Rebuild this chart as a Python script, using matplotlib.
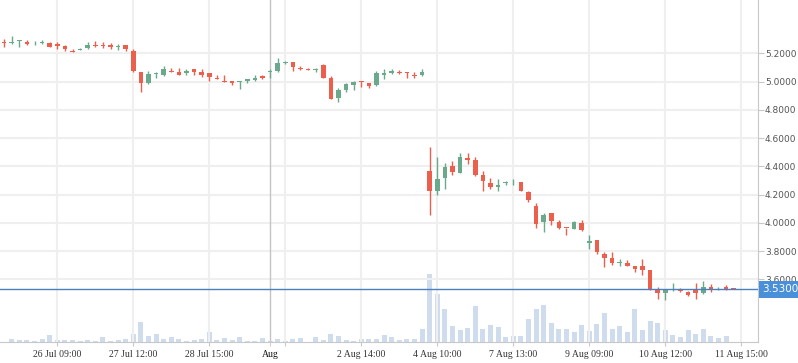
import matplotlib
matplotlib.use("Agg")
import matplotlib.pyplot as plt
import matplotlib.transforms as mtransforms

# OHLC per candle (one candle per index position)
opens = [5.279, 5.274, 5.285, 5.280, 5.270, 5.276, 5.273, 5.266, 5.252, 5.218,
         5.226, 5.240, 5.261, 5.259, 5.259, 5.245, 5.259, 5.216, 5.070, 4.988,
         5.052, 5.047, 5.075, 5.068, 5.063, 5.087, 5.070, 5.061, 5.026, 5.004,
         5.004, 4.997, 5.004, 5.011, 5.042, 5.070, 5.075, 5.130, 5.141, 5.098,
         5.089, 5.084, 5.117, 5.023, 4.882, 4.941, 4.978, 5.004, 4.990, 4.976,
         5.047, 5.063, 5.068, 5.063, 5.049, 5.047, 4.368, 4.222, 4.321, 4.404,
         4.356, 4.460, 4.446, 4.340, 4.283, 4.257, 4.281, 4.286, 4.290, 4.220,
         4.121, 4.004, 4.071, 4.009, 3.967, 3.955, 4.000, 3.856, 3.882, 3.783,
         3.748, 3.719, 3.719, 3.698, 3.698, 3.670, 3.531, 3.502, 3.524, 3.534,
         3.508, 3.531, 3.502, 3.548, 3.524, 3.543, 3.535]
closes = [5.276, 5.277, 5.288, 5.266, 5.272, 5.279, 5.247, 5.252, 5.233, 5.212,
          5.230, 5.259, 5.252, 5.254, 5.245, 5.249, 5.233, 5.075, 4.992, 5.054,
          5.063, 5.087, 5.070, 5.049, 5.075, 5.068, 5.049, 5.030, 5.021, 5.000,
          4.988, 5.004, 5.016, 5.025, 5.028, 5.073, 5.129, 5.133, 5.101, 5.091,
          5.084, 5.087, 5.028, 4.879, 4.941, 4.983, 4.999, 4.999, 4.969, 5.059,
          5.059, 5.077, 5.063, 5.059, 5.042, 5.066, 4.222, 4.312, 4.397, 4.361,
          4.467, 4.446, 4.340, 4.293, 4.257, 4.269, 4.285, 4.290, 4.229, 4.159,
          3.990, 4.056, 4.010, 3.967, 3.962, 4.004, 3.953, 3.875, 3.792, 3.750,
          3.715, 3.724, 3.693, 3.672, 3.665, 3.534, 3.502, 3.522, 3.534, 3.517,
          3.493, 3.502, 3.548, 3.524, 3.531, 3.534, 3.530]
highs = [5.299, 5.322, 5.292, 5.292, 5.285, 5.292, 5.278, 5.278, 5.257, 5.228,
         5.235, 5.280, 5.287, 5.278, 5.275, 5.266, 5.259, 5.230, 5.070, 5.075,
         5.070, 5.110, 5.094, 5.096, 5.089, 5.087, 5.089, 5.061, 5.049, 5.049,
         5.004, 5.004, 5.016, 5.047, 5.049, 5.087, 5.165, 5.146, 5.141, 5.110,
         5.094, 5.098, 5.126, 5.037, 4.957, 4.988, 5.006, 5.004, 4.990, 5.077,
         5.089, 5.087, 5.080, 5.070, 5.066, 5.087, 4.540, 4.469, 4.425, 4.439,
         4.495, 4.495, 4.467, 4.368, 4.319, 4.312, 4.293, 4.312, 4.290, 4.227,
         4.142, 4.071, 4.071, 4.023, 3.967, 4.011, 4.023, 3.917, 3.882, 3.792,
         3.792, 3.741, 3.734, 3.698, 3.741, 3.670, 3.543, 3.522, 3.578, 3.541,
         3.520, 3.578, 3.592, 3.564, 3.548, 3.562, 3.535]
lows = [5.247, 5.266, 5.247, 5.259, 5.259, 5.266, 5.242, 5.228, 5.218, 5.211,
        5.221, 5.233, 5.247, 5.235, 5.233, 5.221, 5.218, 5.068, 4.928, 4.985,
        5.023, 5.040, 5.070, 5.049, 5.049, 5.049, 5.030, 5.002, 5.021, 5.000,
        4.978, 4.950, 4.992, 5.007, 5.021, 5.028, 5.068, 5.124, 5.077, 5.080,
        5.082, 5.070, 5.028, 4.879, 4.858, 4.929, 4.943, 4.964, 4.957, 4.971,
        5.018, 5.054, 5.052, 5.028, 5.028, 5.042, 4.053, 4.199, 4.243, 4.342,
        4.356, 4.420, 4.333, 4.229, 4.243, 4.229, 4.271, 4.271, 4.222, 4.151,
        3.961, 3.932, 3.985, 3.958, 3.917, 3.955, 3.941, 3.818, 3.783, 3.686,
        3.700, 3.693, 3.693, 3.649, 3.630, 3.524, 3.458, 3.453, 3.518, 3.510,
        3.481, 3.458, 3.495, 3.510, 3.524, 3.524, 3.530]
volumes = [0, 3, 2, 2, 1.3, 3, 7, 2, 2, 2,
           1.3, 2, 1.3, 5, 0.7, 2, 3, 8, 20, 6,
           8, 3, 5, 3, 1.3, 2, 3, 10, 2, 4,
           2, 5, 1.3, 1.3, 4, 1, 3, 1.3, 3, 4,
           0.3, 5, 2, 8, 6, 2, 1.3, 3, 3, 3,
           7, 5, 2, 3, 3, 13, 68, 48, 33, 16,
           12, 14, 36, 13, 17, 15, 5, 6, 6, 23,
           33, 37, 19, 13, 13, 10, 17, 11, 18, 29,
           13, 16, 10, 33, 12, 21, 19, 12, 7, 5,
           12, 8, 13, 6, 4, 6, 0]

tick_pos = [7, 17, 27, 37, 47, 57, 67, 77, 87, 97]
tick_labels = ["26 Jul 09:00", "27 Jul 12:00", "28 Jul 15:00", "",
               "2 Aug 14:00", "4 Aug 10:00", "7 Aug 13:00", "9 Aug 09:00",
               "10 Aug 12:00", "11 Aug 15:00"]
month_pos = 35
month_label = "Aug"
price_ticks = [3.6, 3.8, 4.0, 4.2, 4.4, 4.6, 4.8, 5.0, 5.2]
last_price = 3.53

UP = "#6aa98b"
DOWN = "#ec5f4d"
VOL = "#c6d6eb"
GRID = "#efefef"
AXIS = "#c8c8c8"

fig = plt.figure(figsize=(7.98, 3.63), dpi=100)
rect = [0, 21 / 363, 758 / 798, 342 / 363]
ax = fig.add_axes(rect)
ax_vol = ax.twinx()
ax.set_zorder(ax_vol.get_zorder() + 1)
ax.patch.set_visible(False)

x = list(range(len(opens)))

# volume bars in the background
ax_vol.bar(x, volumes, width=0.66, color=VOL, alpha=0.85, linewidth=0)
ax_vol.set_ylim(0, 340)
ax_vol.set_yticks([])
for s in ax_vol.spines.values():
    s.set_visible(False)

# candles
for i in x:
    o, c, h, l = opens[i], closes[i], highs[i], lows[i]
    col = UP if c >= o else DOWN
    ax.vlines(i, l, h, color=col, linewidth=1.0, zorder=3)
    bottom = min(o, c)
    height = max(abs(c - o), 0.006)
    ax.bar(i, height, bottom=bottom, width=0.62, color=col, linewidth=0, zorder=4)

ax.set_xlim(-0.54, 99.2)
ax.set_ylim(3.157, 5.577)

ax.set_xticks(tick_pos)
ax.set_xticklabels(tick_labels, fontsize=7, color="#333333", family="Liberation Serif")
ax.set_xticks([month_pos], minor=True)
ax.set_xticklabels([month_label], minor=True, fontsize=7, color="#111111",
                   family="Liberation Serif")
ax.tick_params(axis="x", which="both", length=3, color=AXIS, pad=3)

ax.yaxis.tick_right()
ax.set_yticks(price_ticks)
ax.set_yticklabels([f"{p:.4f}" for p in price_ticks])
ax.tick_params(axis="y", length=4, color=AXIS, labelsize=6.5, labelcolor="#555555", pad=1)

ax.grid(True, which="major", color=GRID, linewidth=1.5, zorder=0)
ax.set_axisbelow(True)
ax.axvline(month_pos, color="#c4c4c4", linewidth=1.0, zorder=1)

for side in ["top", "left"]:
    ax.spines[side].set_visible(False)
ax.spines["right"].set_color(AXIS)
ax.spines["bottom"].set_color(AXIS)

# last price line and label
ax.axhline(last_price, color="#4a7fc0", linewidth=1.0, zorder=5)
trans = mtransforms.blended_transform_factory(ax.transAxes, ax.transData)
ax.text(1.006, last_price, f"{last_price:.4f}", transform=trans, ha="left", va="center",
        fontsize=7.5, color="white", zorder=6, clip_on=False,
        bbox=dict(boxstyle="square,pad=0.35", fc="#4a90d9", ec="none"))

fig.savefig("out.png", dpi=100)
